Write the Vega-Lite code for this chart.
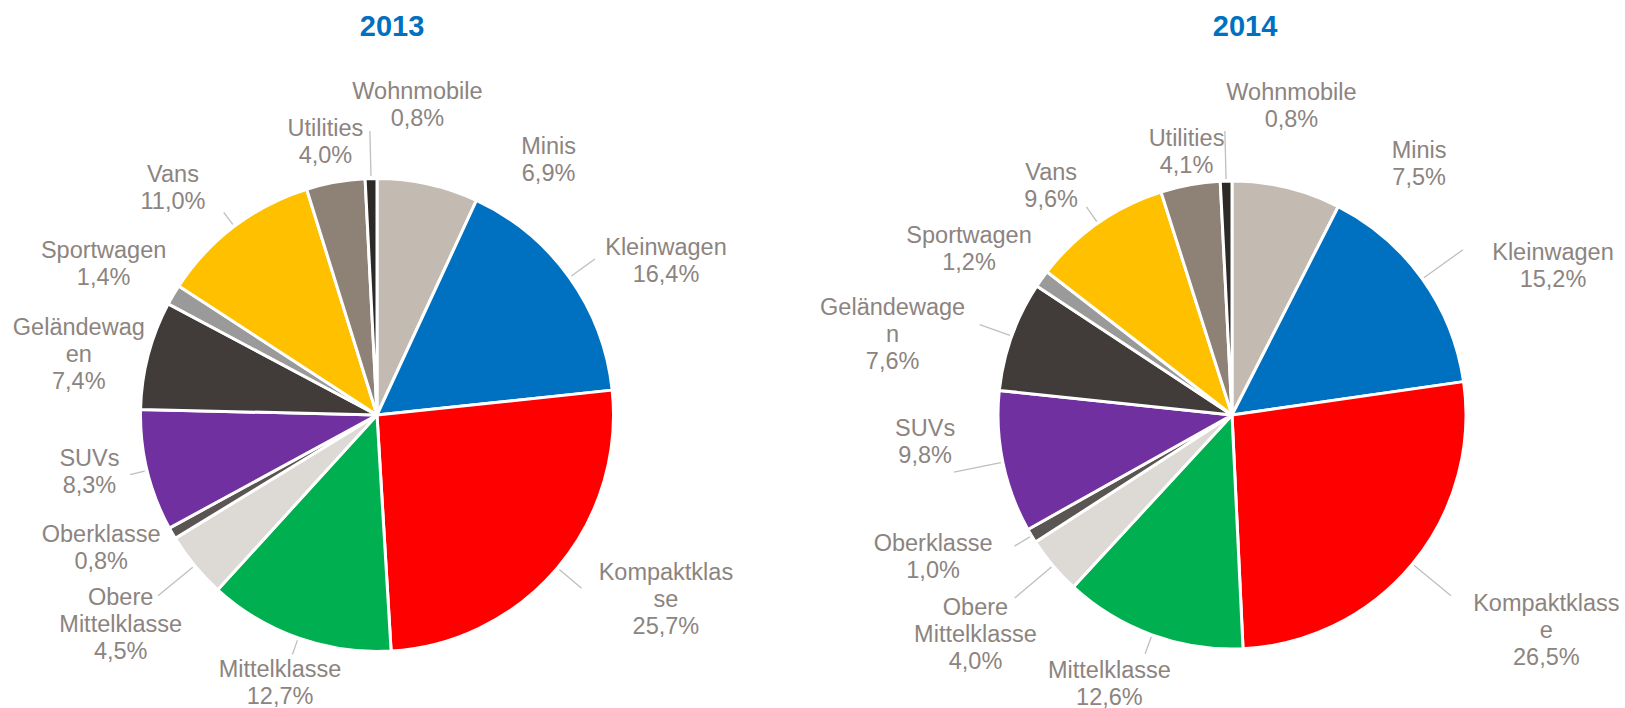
{
  "$schema": "https://vega.github.io/schema/vega-lite/v6.json",
  "padding": {"left": 5, "top": 12, "right": 5, "bottom": 0},
  "bounds": "flush",
  "spacing": 111,
  "datasets": {
    "cars": [
      {"year": 2013, "idx": 1, "cat": "Minis", "share": 6.9, "label": "Minis\n6,9%"},
      {"year": 2013, "idx": 2, "cat": "Kleinwagen", "share": 16.4, "label": "Kleinwagen\n16,4%"},
      {"year": 2013, "idx": 3, "cat": "Kompaktklasse", "share": 25.7, "label": "Kompaktklas\nse\n25,7%"},
      {"year": 2013, "idx": 4, "cat": "Mittelklasse", "share": 12.7, "label": "Mittelklasse\n12,7%"},
      {"year": 2013, "idx": 5, "cat": "Obere Mittelklasse", "share": 4.5, "label": "Obere\nMittelklasse\n4,5%"},
      {"year": 2013, "idx": 6, "cat": "Oberklasse", "share": 0.8, "label": "Oberklasse\n0,8%"},
      {"year": 2013, "idx": 7, "cat": "SUVs", "share": 8.3, "label": "SUVs\n8,3%"},
      {"year": 2013, "idx": 8, "cat": "Geländewagen", "share": 7.4, "label": "Geländewag\nen\n7,4%"},
      {"year": 2013, "idx": 9, "cat": "Sportwagen", "share": 1.4, "label": "Sportwagen\n1,4%"},
      {"year": 2013, "idx": 10, "cat": "Vans", "share": 11.0, "label": "Vans\n11,0%"},
      {"year": 2013, "idx": 11, "cat": "Utilities", "share": 4.0, "label": "Utilities\n4,0%"},
      {"year": 2013, "idx": 12, "cat": "Wohnmobile", "share": 0.8, "label": "Wohnmobile\n0,8%"},
      {"year": 2014, "idx": 1, "cat": "Minis", "share": 7.5, "label": "Minis\n7,5%"},
      {"year": 2014, "idx": 2, "cat": "Kleinwagen", "share": 15.2, "label": "Kleinwagen\n15,2%"},
      {"year": 2014, "idx": 3, "cat": "Kompaktklasse", "share": 26.5, "label": "Kompaktklass\ne\n26,5%"},
      {"year": 2014, "idx": 4, "cat": "Mittelklasse", "share": 12.6, "label": "Mittelklasse\n12,6%"},
      {"year": 2014, "idx": 5, "cat": "Obere Mittelklasse", "share": 4.0, "label": "Obere\nMittelklasse\n4,0%"},
      {"year": 2014, "idx": 6, "cat": "Oberklasse", "share": 1.0, "label": "Oberklasse\n1,0%"},
      {"year": 2014, "idx": 7, "cat": "SUVs", "share": 9.8, "label": "SUVs\n9,8%"},
      {"year": 2014, "idx": 8, "cat": "Geländewagen", "share": 7.6, "label": "Geländewage\nn\n7,6%"},
      {"year": 2014, "idx": 9, "cat": "Sportwagen", "share": 1.2, "label": "Sportwagen\n1,2%"},
      {"year": 2014, "idx": 10, "cat": "Vans", "share": 9.6, "label": "Vans\n9,6%"},
      {"year": 2014, "idx": 11, "cat": "Utilities", "share": 4.1, "label": "Utilities\n4,1%"},
      {"year": 2014, "idx": 12, "cat": "Wohnmobile", "share": 0.8, "label": "Wohnmobile\n0,8%"}
    ]
  },
  "resolve": {"scale": {"theta": "independent"}},
  "hconcat": [
    {
      "width": 744,
      "height": 580,
      "title": {"text": "2013", "dx": 15, "offset": 38},
      "data": {"name": "cars"},
      "transform": [
        {"filter": "datum.year == 2013"},
        {"stack": "share", "groupby": ["year"], "sort": [{"field": "idx", "order": "ascending"}], "as": ["a0", "a1"]},
        {"fold": ["a0", "a1"], "as": ["edge", "ang"]},
        {"aggregate": [{"op": "mean", "field": "ang", "as": "mid"}], "groupby": ["idx", "cat", "label", "share"]}
      ],
      "layer": [
        {
          "mark": {"type": "arc", "outerRadius": 236.5, "stroke": "#ffffff", "strokeWidth": 3, "strokeJoin": "round"},
          "encoding": {
            "theta": {"field": "share", "type": "quantitative", "stack": true},
            "order": {"field": "idx", "type": "quantitative", "sort": "ascending"},
            "color": {
              "field": "cat", "type": "nominal", "legend": null,
              "scale": {
                "domain": ["Minis", "Kleinwagen", "Kompaktklasse", "Mittelklasse", "Obere Mittelklasse", "Oberklasse", "SUVs", "Geländewagen", "Sportwagen", "Vans", "Utilities", "Wohnmobile"],
                "range": ["#C3BAB1", "#0070C0", "#FF0000", "#00B050", "#DDDAD6", "#5A5552", "#7030A0", "#413C3A", "#9A9A9A", "#FFC000", "#8E8175", "#2C2927"]
              }
            }
          }
        },
        {
          "transform": [{"filter": "indexof(['Mittelklasse','SUVs','Vans'], datum.cat) >= 0"}],
          "mark": {"type": "arc", "innerRadius": 239, "outerRadius": 254, "fillOpacity": 0, "stroke": "#BFBFBF", "strokeWidth": 1.3},
          "encoding": {"theta": {"field": "mid", "type": "quantitative"}, "theta2": {"field": "mid"}}
        },
        {
          "transform": [{"filter": "indexof(['Kleinwagen','Kompaktklasse'], datum.cat) >= 0"}],
          "mark": {"type": "arc", "innerRadius": 239, "outerRadius": 268, "fillOpacity": 0, "stroke": "#BFBFBF", "strokeWidth": 1.3},
          "encoding": {"theta": {"field": "mid", "type": "quantitative"}, "theta2": {"field": "mid"}}
        },
        {
          "transform": [{"filter": "indexof(['Wohnmobile','Obere Mittelklasse'], datum.cat) >= 0"}],
          "mark": {"type": "arc", "innerRadius": 239, "outerRadius": 284, "fillOpacity": 0, "stroke": "#BFBFBF", "strokeWidth": 1.3},
          "encoding": {"theta": {"field": "mid", "type": "quantitative"}, "theta2": {"field": "mid"}}
        },
        {"transform": [{"filter": "datum.cat == 'Minis'"}], "mark": {"type": "text", "radius": 300, "dx": 107, "dy": 25}, "encoding": {"theta": {"field": "mid", "type": "quantitative"}, "text": {"field": "label"}}},
        {"transform": [{"filter": "datum.cat == 'Kleinwagen'"}], "mark": {"type": "text", "radius": 300, "dx": 45, "dy": 8}, "encoding": {"theta": {"field": "mid", "type": "quantitative"}, "text": {"field": "label"}}},
        {"transform": [{"filter": "datum.cat == 'Kompaktklasse'"}], "mark": {"type": "text", "radius": 300, "dx": 60, "dy": -36}, "encoding": {"theta": {"field": "mid", "type": "quantitative"}, "text": {"field": "label"}}},
        {"transform": [{"filter": "datum.cat == 'Mittelklasse'"}], "mark": {"type": "text", "radius": 300, "dx": 3, "dy": -28}, "encoding": {"theta": {"field": "mid", "type": "quantitative"}, "text": {"field": "label"}}},
        {"transform": [{"filter": "datum.cat == 'Obere Mittelklasse'"}], "mark": {"type": "text", "radius": 300, "dx": -25, "dy": -8}, "encoding": {"theta": {"field": "mid", "type": "quantitative"}, "text": {"field": "label"}}},
        {"transform": [{"filter": "datum.cat == 'Oberklasse'"}], "mark": {"type": "text", "radius": 300, "dx": -16, "dy": -30}, "encoding": {"theta": {"field": "mid", "type": "quantitative"}, "text": {"field": "label"}}},
        {"transform": [{"filter": "datum.cat == 'SUVs'"}], "mark": {"type": "text", "radius": 300, "dx": 4, "dy": -27}, "encoding": {"theta": {"field": "mid", "type": "quantitative"}, "text": {"field": "label"}}},
        {"transform": [{"filter": "datum.cat == 'Geländewagen'"}], "mark": {"type": "text", "radius": 300, "dx": -8, "dy": -11}, "encoding": {"theta": {"field": "mid", "type": "quantitative"}, "text": {"field": "label"}}},
        {"transform": [{"filter": "datum.cat == 'Sportwagen'"}], "mark": {"type": "text", "radius": 300, "dx": -15, "dy": -12}, "encoding": {"theta": {"field": "mid", "type": "quantitative"}, "text": {"field": "label"}}},
        {"transform": [{"filter": "datum.cat == 'Vans'"}], "mark": {"type": "text", "radius": 300, "dx": -23, "dy": -1}, "encoding": {"theta": {"field": "mid", "type": "quantitative"}, "text": {"field": "label"}}},
        {"transform": [{"filter": "datum.cat == 'Utilities'"}], "mark": {"type": "text", "radius": 300, "dx": 1, "dy": 9}, "encoding": {"theta": {"field": "mid", "type": "quantitative"}, "text": {"field": "label"}}},
        {"transform": [{"filter": "datum.cat == 'Wohnmobile'"}], "mark": {"type": "text", "radius": 300, "dx": 48, "dy": -23}, "encoding": {"theta": {"field": "mid", "type": "quantitative"}, "text": {"field": "label"}}}
      ]
    },
    {
      "width": 744,
      "height": 580,
      "title": {"text": "2014", "dx": 13, "offset": 39.5},
      "data": {"name": "cars"},
      "transform": [
        {"filter": "datum.year == 2014"},
        {"stack": "share", "groupby": ["year"], "sort": [{"field": "idx", "order": "ascending"}], "as": ["a0", "a1"]},
        {"fold": ["a0", "a1"], "as": ["edge", "ang"]},
        {"aggregate": [{"op": "mean", "field": "ang", "as": "mid"}], "groupby": ["idx", "cat", "label", "share"]}
      ],
      "layer": [
        {
          "mark": {"type": "arc", "outerRadius": 234, "stroke": "#ffffff", "strokeWidth": 3, "strokeJoin": "round"},
          "encoding": {
            "theta": {"field": "share", "type": "quantitative", "stack": true},
            "order": {"field": "idx", "type": "quantitative", "sort": "ascending"},
            "color": {
              "field": "cat", "type": "nominal", "legend": null,
              "scale": {
                "domain": ["Minis", "Kleinwagen", "Kompaktklasse", "Mittelklasse", "Obere Mittelklasse", "Oberklasse", "SUVs", "Geländewagen", "Sportwagen", "Vans", "Utilities", "Wohnmobile"],
                "range": ["#C3BAB1", "#0070C0", "#FF0000", "#00B050", "#DDDAD6", "#5A5552", "#7030A0", "#413C3A", "#9A9A9A", "#FFC000", "#8E8175", "#2C2927"]
              }
            }
          }
        },
        {
          "transform": [{"filter": "indexof(['Mittelklasse','Oberklasse','Vans'], datum.cat) >= 0"}],
          "mark": {"type": "arc", "innerRadius": 236, "outerRadius": 254, "fillOpacity": 0, "stroke": "#BFBFBF", "strokeWidth": 1.3},
          "encoding": {"theta": {"field": "mid", "type": "quantitative"}, "theta2": {"field": "mid"}}
        },
        {
          "transform": [{"filter": "indexof(['Geländewagen'], datum.cat) >= 0"}],
          "mark": {"type": "arc", "innerRadius": 236, "outerRadius": 268, "fillOpacity": 0, "stroke": "#BFBFBF", "strokeWidth": 1.3},
          "encoding": {"theta": {"field": "mid", "type": "quantitative"}, "theta2": {"field": "mid"}}
        },
        {
          "transform": [{"filter": "indexof(['Wohnmobile','Kleinwagen','Kompaktklasse','Obere Mittelklasse','SUVs'], datum.cat) >= 0"}],
          "mark": {"type": "arc", "innerRadius": 236, "outerRadius": 284, "fillOpacity": 0, "stroke": "#BFBFBF", "strokeWidth": 1.3},
          "encoding": {"theta": {"field": "mid", "type": "quantitative"}, "theta2": {"field": "mid"}}
        },
        {"transform": [{"filter": "datum.cat == 'Minis'"}], "mark": {"type": "text", "radius": 300, "dx": 117, "dy": 28}, "encoding": {"theta": {"field": "mid", "type": "quantitative"}, "text": {"field": "label"}}},
        {"transform": [{"filter": "datum.cat == 'Kleinwagen'"}], "mark": {"type": "text", "radius": 300, "dx": 77, "dy": 13}, "encoding": {"theta": {"field": "mid", "type": "quantitative"}, "text": {"field": "label"}}},
        {"transform": [{"filter": "datum.cat == 'Kompaktklasse'"}], "mark": {"type": "text", "radius": 300, "dx": 83, "dy": -2}, "encoding": {"theta": {"field": "mid", "type": "quantitative"}, "text": {"field": "label"}}},
        {"transform": [{"filter": "datum.cat == 'Mittelklasse'"}], "mark": {"type": "text", "radius": 300, "dx": -20, "dy": -26}, "encoding": {"theta": {"field": "mid", "type": "quantitative"}, "text": {"field": "label"}}},
        {"transform": [{"filter": "datum.cat == 'Obere Mittelklasse'"}], "mark": {"type": "text", "radius": 300, "dx": -27, "dy": 0}, "encoding": {"theta": {"field": "mid", "type": "quantitative"}, "text": {"field": "label"}}},
        {"transform": [{"filter": "datum.cat == 'Oberklasse'"}], "mark": {"type": "text", "radius": 300, "dx": -42, "dy": -26}, "encoding": {"theta": {"field": "mid", "type": "quantitative"}, "text": {"field": "label"}}},
        {"transform": [{"filter": "datum.cat == 'SUVs'"}], "mark": {"type": "text", "radius": 300, "dx": -13, "dy": -46}, "encoding": {"theta": {"field": "mid", "type": "quantitative"}, "text": {"field": "label"}}},
        {"transform": [{"filter": "datum.cat == 'Geländewagen'"}], "mark": {"type": "text", "radius": 300, "dx": -57, "dy": -6}, "encoding": {"theta": {"field": "mid", "type": "quantitative"}, "text": {"field": "label"}}},
        {"transform": [{"filter": "datum.cat == 'Sportwagen'"}], "mark": {"type": "text", "radius": 300, "dx": -19, "dy": -4}, "encoding": {"theta": {"field": "mid", "type": "quantitative"}, "text": {"field": "label"}}},
        {"transform": [{"filter": "datum.cat == 'Vans'"}], "mark": {"type": "text", "radius": 300, "dx": -9, "dy": 4}, "encoding": {"theta": {"field": "mid", "type": "quantitative"}, "text": {"field": "label"}}},
        {"transform": [{"filter": "datum.cat == 'Utilities'"}], "mark": {"type": "text", "radius": 300, "dx": 8, "dy": 19}, "encoding": {"theta": {"field": "mid", "type": "quantitative"}, "text": {"field": "label"}}},
        {"transform": [{"filter": "datum.cat == 'Wohnmobile'"}], "mark": {"type": "text", "radius": 300, "dx": 67, "dy": -22}, "encoding": {"theta": {"field": "mid", "type": "quantitative"}, "text": {"field": "label"}}}
      ]
    }
  ],
  "config": {
    "view": {"stroke": null},
    "title": {"font": "Liberation Sans", "fontSize": 29, "fontWeight": "bold", "color": "#0070C0"},
    "text": {"font": "Liberation Sans", "fontSize": 23.5, "color": "#8C8480", "lineBreak": "\n", "lineHeight": 27, "align": "center", "baseline": "middle"}
  }
}
